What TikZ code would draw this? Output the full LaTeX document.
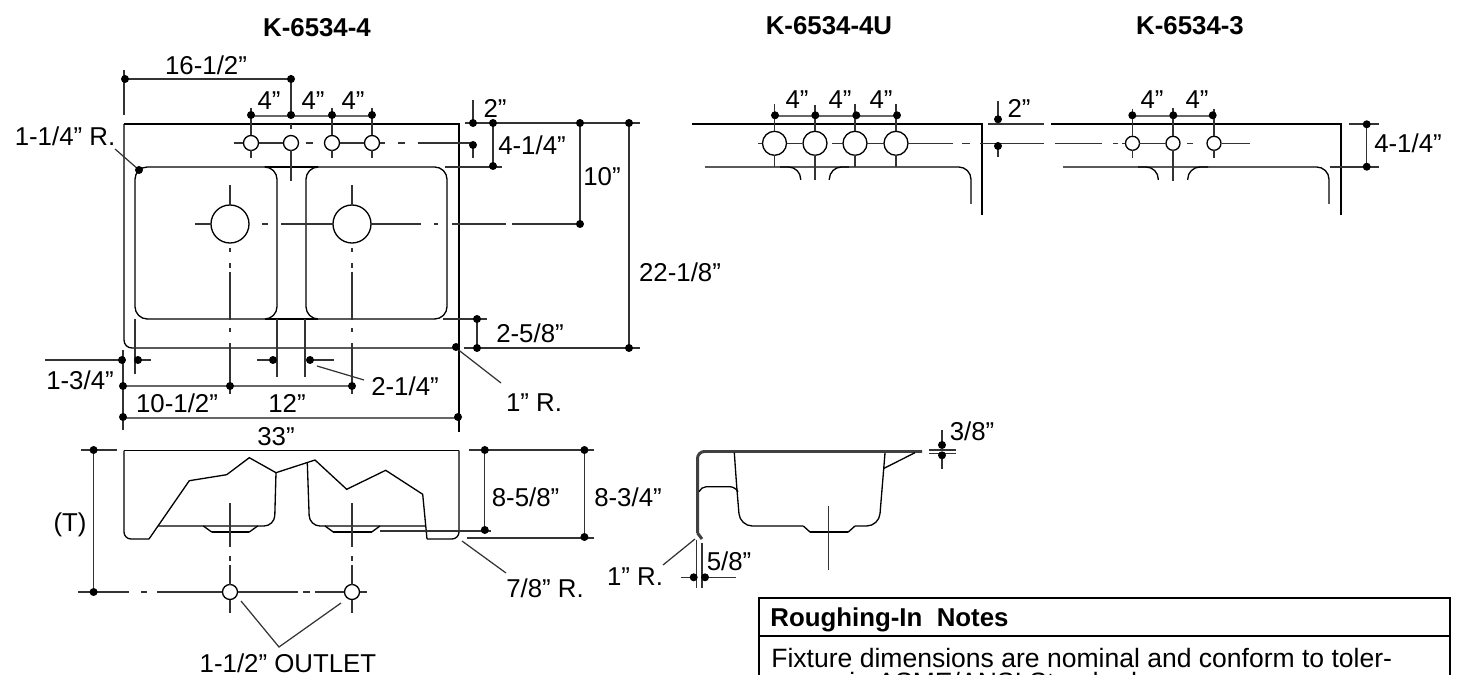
\documentclass[tikz,border=0pt]{standalone}
\usepackage{fontspec}
\setmainfont{Liberation Sans}
\tikzset{
  outline/.style={black,line width=0.75pt},
  centerline/.style={black!80,line width=0.7pt},
  dimline/.style={black!60,line width=1.1pt},
  heavy/.style={black,line width=1.3pt},
  flange/.style={black!75,line width=1.7pt},
  lab/.style={inner sep=0pt,font=\fontsize{14.7}{17}\selectfont},
  notelab/.style={inner sep=0pt,font=\fontsize{15.1}{17}\selectfont},
  headlab/.style={inner sep=0pt,font=\fontsize{14.7}{17}\selectfont\bfseries},
}
\begin{document}
\begin{tikzpicture}[x=0.02cm,y=-0.02cm]
	\useasboundingbox (0,0) rectangle (1457,675);
	\clip (0,0) rectangle (1457,675);
	% Titles
	\node [headlab] (titleA) at (317,28) {K-6534-4};
	\node [headlab] (titleB) at (829,26) {K-6534-4U};
	\node [headlab] (titleC) at (1190,26) {K-6534-3};
	% Top view, outline
	\draw [outline] (124,124) -- (459,124) -- (459,432);
	\draw [outline,rounded corners=4.5pt] (124,124) -- (124,348) -- (456,348);
	\draw [outline,rounded corners=7pt] (265,167) -- (277,167) -- (277,319) -- (147,319);
	\draw [outline,rounded corners=7pt] (147,319) -- (135,319) -- (135,167) -- (265,167);
	\draw [outline,rounded corners=7pt] (318,167) -- (306,167) -- (306,319) -- (435,319);
	\draw [outline,rounded corners=7pt] (435,319) -- (447,319) -- (447,167) -- (318,167);
	\draw [outline] (265,167) -- (318,167);
	\draw [outline] (265,319) -- (318,319);
	\draw [outline] (230,224) circle (19);
	\draw [outline] (352,224) circle (19);
	\draw [outline] (251,143) circle (7.5);
	\draw [outline] (291,143) circle (7.5);
	\draw [outline] (332,143) circle (7.5);
	\draw [outline] (372,143) circle (7.5);
	% Center lines
	\foreach \xa/\xb in {234/243,259/283,306/313,340/364,380/385,398/405,418/473}
		\draw [centerline] (\xa,143) -- (\xb,143);
	\foreach \xa/\xb in {195/211,262/268,281/333,371/421,434/438,452/506,512/580}
		\draw [centerline] (\xa,224) -- (\xb,224);
	\foreach \xc in {230,352}
		\foreach \ya/\yb in {185/205,248/252,263/268,272/320,328/332,343/394}
			\draw [centerline] (\xc,\ya) -- (\xc,\yb);
	\foreach \xc in {251,332,372} {
		\draw [centerline] (\xc,108) -- (\xc,135.5);
		\draw [centerline] (\xc,150.5) -- (\xc,158);
	}
	\draw [centerline] (291,75) -- (291,116);
	\draw [centerline] (291,124) -- (291,129);
	\draw [centerline] (291,150.5) -- (291,181);
	\draw [centerline] (124,70) -- (124,115);
	\draw [centerline] (135,319) -- (135,374);
	\draw [centerline] (277,319) -- (277,377);
	\draw [centerline] (305,319) -- (305,377);
	\draw [centerline] (123,350) -- (123,430);
	% Top view, dimensions
	\draw [centerline] (125,79) -- (291,79);
	\draw [dimline] (251,116) -- (372,116);
	\draw [centerline] (473,100) -- (473,123);
	\draw [centerline] (473,145) -- (473,158);
	\draw [centerline] (465,123) -- (640,123);
	\draw [centerline] (493,123) -- (493,166);
	\draw [centerline] (445,167) -- (502,167);
	\draw [centerline] (580,123) -- (580,224);
	\draw [centerline] (629,123) -- (629,348);
	\draw [centerline] (464,348) -- (640,348);
	\draw [centerline] (443,319) -- (487,319);
	\draw [centerline] (477,319) -- (477,348);
	\draw [centerline] (45,360) -- (122,360);
	\draw [centerline] (138,360) -- (151,360);
	\draw [centerline] (257,360) -- (273,360);
	\draw [centerline] (310,360) -- (334,360);
	\draw [centerline] (317,366) -- (364,380);
	\draw [centerline] (456,348) -- (501,383);
	\draw [centerline] (115,149) -- (139,170);
	\draw [dimline] (123,386) -- (352,386);
	\draw [dimline] (123,418) -- (458,418);
	\foreach \p in {(125,79),(291,79),(251,115),(291,115),(332,115),(372,115),(473,123),(473,145),(493,123),(493,166),(580,123),(580,224),(629,123),(629,348),(477,319),(477,348),(139,170),(456,347),(122,360),(138,360),(273,360),(310,360),(123,386),(230,386),(352,386),(123,417),(458,417)}
		\fill \p circle (4);
	\node [lab] (dimA) at (206,65) {16-1/2”};
	\node [lab] (dimB) at (269,101) {4”};
	\node [lab] (dimC) at (313,101) {4”};
	\node [lab] (dimD) at (353,101) {4”};
	\node [lab] (dimE) at (495,108) {2”};
	\node [lab] (dimF) at (65,136) {1-1/4” R.};
	\node [lab] (dimG) at (532,145) {4-1/4”};
	\node [lab] (dimH) at (602,177) {10”};
	\node [lab] (dimI) at (680,272) {22-1/8”};
	\node [lab] (dimJ) at (530,333) {2-5/8”};
	\node [lab] (dimK) at (80,380) {1-3/4”};
	\node [lab] (dimL) at (177,403) {10-1/2”};
	\node [lab] (dimM) at (287,403) {12”};
	\node [lab] (dimN) at (405,386) {2-1/4”};
	\node [lab] (dimO) at (534,403) {1” R.};
	\node [lab] (dimP) at (276,437) {33”};
	% Top views K-6534-4U and K-6534-3
	\draw [outline] (692,124) -- (982,124) -- (982,215);
	\draw [outline] (1050.7,124) -- (1341,124) -- (1341,215);
	\draw [outline,rounded corners=7pt] (705,167) -- (971,167) -- (971,204);
	\draw [outline,rounded corners=7pt] (1063,167) -- (1329,167) -- (1329,204);
	\draw [outline,rounded corners=7pt] (780,167) -- (800.7,167) -- (800.7,180);
	\draw [outline,rounded corners=7pt] (849,167) -- (829.3,167) -- (829.3,180);
	\draw [outline,rounded corners=7pt] (1138,167) -- (1158.3,167) -- (1158.3,180);
	\draw [outline,rounded corners=7pt] (1208,167) -- (1187.7,167) -- (1187.7,180);
	\foreach \xc in {774.5,815,855,896}
		\draw [outline] (\xc,143.3) circle (12);
	\foreach \xc in {1132.5,1173,1214}
		\draw [outline] (\xc,143.3) circle (7);
	\foreach \xa/\xb in {758/762,787/802,832/843,867/884,908/953,962/970,980/1044,1055/1102,1113/1118,1122/1125,1139/1166,1187/1193,1222/1250}
		\draw [centerline] (\xa,143.3) -- (\xb,143.3);
	\foreach \xc in {774.5,855,896} {
		\draw [centerline] (\xc,104) -- (\xc,131);
		\draw [centerline] (\xc,155.5) -- (\xc,167);
	}
	\draw [centerline] (815,105) -- (815,131);
	\draw [centerline] (815,155.5) -- (815,180);
	\foreach \xc in {1132.5,1214} {
		\draw [centerline] (\xc,109) -- (\xc,136);
		\draw [centerline] (\xc,150.5) -- (\xc,158);
	}
	\draw [centerline] (1173,108) -- (1173,136);
	\draw [centerline] (1173,150.5) -- (1173,181);
	\draw [dimline] (775,116) -- (897,116);
	\draw [dimline] (1132,116) -- (1213,116);
	\draw [centerline] (998,101) -- (998,119);
	\draw [centerline] (998,146) -- (998,157);
	\draw [centerline] (988,124) -- (1044,124);
	\draw [centerline] (1349,124) -- (1379,124);
	\draw [centerline] (1330,167) -- (1379,167);
	\draw [centerline] (1366.7,124) -- (1366.7,167);
	\foreach \p in {(775,115.3),(815.3,115.3),(856.3,115.3),(897,115.3),(998,119.3),(998,146),(1132.3,115.3),(1173.3,115.3),(1212.7,115.3),(1366.7,124.3),(1366.7,166.7)}
		\fill \p circle (4);
	\node [lab] (dimQ) at (797,100) {4”};
	\node [lab] (dimR) at (840,100) {4”};
	\node [lab] (dimS) at (881,100) {4”};
	\node [lab] (dimT) at (1019,108) {2”};
	\node [lab] (dimU) at (1152,100) {4”};
	\node [lab] (dimV) at (1197,100) {4”};
	\node [lab] (dimW) at (1408,143) {4-1/4”};
	% Front view
	\draw [outline,rounded corners=4pt] (149,539) -- (124,539) -- (124,450.7);
	\draw [outline] (124,450.7) -- (459,450.7);
	\draw [outline,rounded corners=4pt] (459,450.7) -- (459,539) -- (427,539);
	\draw [outline] (149,539) -- (189.3,480.7) -- (226.7,474.7) -- (249.3,457.7) -- (276,472.7) -- (315,460) -- (346.7,489.3) -- (385.7,470.3) -- (422.7,494.3) -- (427,539);
	\draw [outline,rounded corners=6pt] (276,472.7) -- (274.5,526) -- (158.3,526);
	\draw [outline,rounded corners=6pt] (307.3,462.7) -- (309.5,526) -- (425.3,526);
	\draw [outline] (203.3,526) -- (211.7,532) -- (249.3,532) -- (257.7,526);
	\draw [heavy] (211.7,532) -- (249.3,532);
	\draw [outline] (325,526) -- (333.3,532) -- (371.7,532) -- (380,526);
	\draw [heavy] (333.3,532) -- (371.7,532);
	\draw [outline] (230,592) circle (7.5);
	\draw [outline] (352,592) circle (7.5);
	\foreach \xc in {230,352}
		\foreach \ya/\yb in {503/547,556/561,565/584.5,599.5/613}
			\draw [centerline] (\xc,\ya) -- (\xc,\yb);
	\foreach \xa/\xb in {78/129,141/147,157/222,238/298,303/310,315/344,359.5/367}
		\draw [centerline] (\xa,592) -- (\xb,592);
	% Front view, dimensions
	\draw [centerline] (81,450) -- (117,450);
	\draw [centerline] (93.6,450) -- (93.6,592);
	\draw [centerline] (469,450) -- (594,450);
	\draw [centerline] (467,538) -- (594,538);
	\draw [centerline] (380,531) -- (491,531);
	\draw [centerline] (484.8,450) -- (484.8,530);
	\draw [centerline] (584.4,450) -- (584.4,537);
	\draw [centerline] (462,541) -- (506,573);
	\draw [centerline] (241,601) -- (279,647) -- (341,603);
	\foreach \p in {(93.6,450),(93.6,592),(484.8,450),(484.8,530),(584.4,450),(584.4,537)}
		\fill \p circle (4);
	\node [lab] (dimX) at (70,525) {(T)};
	\node [lab] (dimY) at (525.6,497) {8-5/8”};
	\node [lab] (dimZ) at (628,497) {8-3/4”};
	\node [lab] (dimAA) at (545,588) {7/8” R.};
	\node [lab] (outletlab) at (288,663) {1-1/2” OUTLET};
	% Section view
	\draw [flange,rounded corners=4pt] (922,451.5) -- (697.5,451.5) -- (697.5,533);
	\draw [flange] (697.5,533) -- (702,539);
	\draw [outline,rounded corners=7pt] (734.3,452.7) -- (736.7,486.7) -- (740,526) -- (803.3,526);
	\draw [outline] (803.3,526) -- (810,532) -- (848.3,532) -- (855,526);
	\draw [outline,rounded corners=7pt] (855,526) -- (879,526) -- (885,453);
	\draw [heavy] (810,532) -- (848.3,532);
	\draw [outline] (884,468.3) -- (915,452.7);
	\draw [outline,rounded corners=3pt] (699,491.7) -- (701,486.7) -- (735,486.7) -- (738,491.7);
	\draw [centerline] (828.7,506) -- (828.7,570);
	\draw [centerline] (942,430) -- (942,445);
	\draw [centerline] (942,455) -- (942,469);
	\draw [centerline] (929,450) -- (956,450);
	\draw [centerline] (929,453.5) -- (956,453.5);
	\draw [centerline] (696.7,540) -- (696.7,588);
	\draw [centerline] (702,543) -- (702,588);
	\draw [centerline] (680.7,577.3) -- (694,577.3);
	\draw [centerline] (705,577.3) -- (735.7,577.3);
	\draw [centerline] (663,565) -- (695,539);
	\foreach \p in {(942,445),(942,455.3),(693.7,577.3),(705,577.3)}
		\fill \p circle (4);
	\node [lab] (dimAB) at (972,431) {3/8”};
	\node [lab] (dimAC) at (729,561) {5/8”};
	\node [lab] (dimAD) at (635,577) {1” R.};
	% Notes box
	\draw [outline] (759,680) -- (759,598) -- (1450,598) -- (1450,680);
	\draw [outline] (759,636) -- (1450,636);
	\node [headlab,anchor=base west] (noteshead) at (770,626) {Roughing-In\ \ Notes};
	\node [notelab,anchor=base west] (notesA) at (771,667) {Fixture dimensions are nominal and conform to toler-};
	\node [notelab,anchor=base west] (notesB) at (771,691) {ances in ASME/ANSI Standard};
\end{tikzpicture}
\end{document}
